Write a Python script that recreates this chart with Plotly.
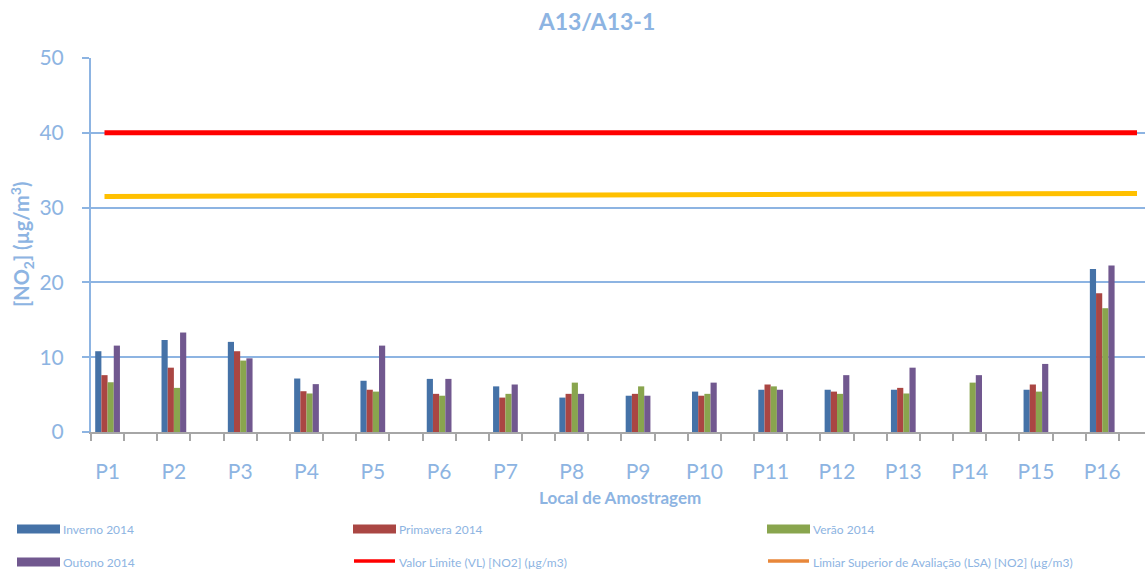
import plotly.graph_objects as go

# ---- data ----
points = ["P1", "P2", "P3", "P4", "P5", "P6", "P7", "P8",
          "P9", "P10", "P11", "P12", "P13", "P14", "P15", "P16"]
inverno = [10.8, 12.3, 12.05, 7.15, 6.85, 7.1, 6.1, 4.6,
           4.85, 5.4, 5.65, 5.65, 5.65, None, 5.65, 21.8]
primavera = [7.6, 8.6, 10.8, 5.45, 5.65, 5.1, 4.6, 5.1,
             5.1, 4.85, 6.35, 5.4, 5.9, None, 6.35, 18.55]
verao = [6.65, 5.9, 9.55, 5.15, 5.4, 4.85, 5.1, 6.6,
         6.1, 5.1, 6.1, 5.1, 5.15, 6.6, 5.4, 16.55]
outono = [11.55, 13.3, 9.85, 6.4, 11.55, 7.1, 6.35, 5.1,
          4.85, 6.6, 5.65, 7.6, 8.6, 7.6, 9.1, 22.25]
valor_limite = [40, 40]          # VL at first and last point
limiar_superior = [31.5, 31.9]   # LSA at first and last point

series_names = ["Inverno 2014", "Primavera 2014", "Verão 2014", "Outono 2014"]
line_names = ["Valor Limite (VL) [NO2] (µg/m3)",
              "Limiar Superior de Avaliação (LSA) [NO2] (µg/m3)"]
y_ticks = [0, 10, 20, 30, 40, 50]

# ---- style ----
W, H = 1145, 569
ML, MR, MT, MB = 91, 0, 58, 137
TXT = "#8DB4E2"
FONT = "Lato"
bar_colors = ["#4572A7", "#AA4643", "#89A54E", "#71588F"]
line_colors = ["#FF0000", "#FFC000"]
legend_line_colors = ["#FF0000", "#E8873A"]

# bar slots: each point occupies one slot followed by an empty one
bar_x = [2 * i + 0.5 for i in range(len(points))]

fig = go.Figure()
for name, vals, col in zip(series_names, [inverno, primavera, verao, outono], bar_colors):
    fig.add_trace(go.Bar(x=bar_x, y=vals, name=name, marker_color=col,
                         marker_line_width=0, xaxis="x", yaxis="y",
                         showlegend=False))

for name, vals, col in zip(line_names, [valor_limite, limiar_superior], line_colors):
    fig.add_trace(go.Scatter(x=[points[0], points[-1]], y=vals, name=name,
                             mode="lines", line=dict(color=col, width=5),
                             xaxis="x2", yaxis="y", showlegend=False))

pw = W - ML - MR
ph = H - MT - MB


def px(x):
    return (x - ML) / pw


def py(y):
    return (H - MB - y) / ph


shapes = []
annotations = []
legend_items = [
    (series_names[0], "bar", bar_colors[0], 17, 529),
    (series_names[1], "bar", bar_colors[1], 353, 529),
    (series_names[2], "bar", bar_colors[2], 767, 529),
    (series_names[3], "bar", bar_colors[3], 17, 562),
    (line_names[0], "line", legend_line_colors[0], 353, 562),
    (line_names[1], "line", legend_line_colors[1], 767, 562),
]
for label, kind, col, x0, yc in legend_items:
    if kind == "bar":
        shapes.append(dict(type="rect", xref="paper", yref="paper",
                           x0=px(x0), x1=px(x0 + 43), y0=py(yc - 4.5), y1=py(yc + 4.5),
                           fillcolor=col, line_width=0))
    else:
        shapes.append(dict(type="line", xref="paper", yref="paper",
                           x0=px(x0 + 1), x1=px(x0 + 42), y0=py(yc - 1), y1=py(yc - 1),
                           line=dict(color=col, width=3.5)))
    annotations.append(dict(text=label, xref="paper", yref="paper",
                            x=px(x0 + 44), y=py(yc), xanchor="left", yanchor="middle",
                            showarrow=False, font=dict(family=FONT, size=12, color=TXT)))

annotations.append(dict(text="<b>Local de Amostragem</b>", xref="paper", yref="paper",
                        x=px(620), y=py(497), xanchor="center", yanchor="middle",
                        showarrow=False, font=dict(family=FONT, size=17, color=TXT)))
annotations.append(dict(text="<b>[NO<sub>2</sub>] (µg/m<sup>3</sup>)</b>", xref="paper", yref="paper",
                        x=px(22), y=py(245), xanchor="center", yanchor="middle", textangle=-90,
                        showarrow=False, font=dict(family=FONT, size=20, color=TXT)))

fig.update_layout(
    width=W, height=H,
    margin=dict(l=ML, r=MR, t=MT, b=MB, pad=0),
    paper_bgcolor="white", plot_bgcolor="white",
    title=dict(text="<b>A13/A13-1</b>", x=597 / W, xanchor="center",
               y=1 - 22 / H, yanchor="middle",
               font=dict(family=FONT, size=23, color=TXT)),
    barmode="group", bargap=0.627, bargroupgap=0,
    showlegend=False,
    shapes=shapes, annotations=annotations,
    xaxis=dict(range=[0, 31.79], showgrid=False, zeroline=False,
               showline=True, linecolor="#A6A6A6", linewidth=2,
               ticks="", tickmode="array", tickvals=bar_x, ticktext=points,
               ticklabelstandoff=20,
               tickfont=dict(family=FONT, size=21, color=TXT),
               minor=dict(ticks="outside", tick0=0, dtick=1, ticklen=7, tickwidth=2,
                          tickcolor="#A6A6A6", showgrid=False)),
    xaxis2=dict(overlaying="x", side="bottom", anchor="y", type="category",
                categoryorder="array", categoryarray=points,
                range=[-0.196, 15.116], showgrid=False, zeroline=False, showline=False,
                ticks="", showticklabels=False),
    yaxis=dict(range=[0, 50], tickvals=y_ticks, showgrid=True, gridcolor=TXT, gridwidth=2,
               zeroline=False, showline=True, linecolor=TXT, linewidth=2,
               ticks="outside", ticklen=7, tickwidth=2, tickcolor=TXT,
               ticklabelstandoff=14,
               tickfont=dict(family=FONT, size=21, color=TXT)),
)

fig.write_html("out.html", config={"displayModeBar": False},
               post_script="document.body.style.margin='0';document.body.style.overflow='hidden';")
